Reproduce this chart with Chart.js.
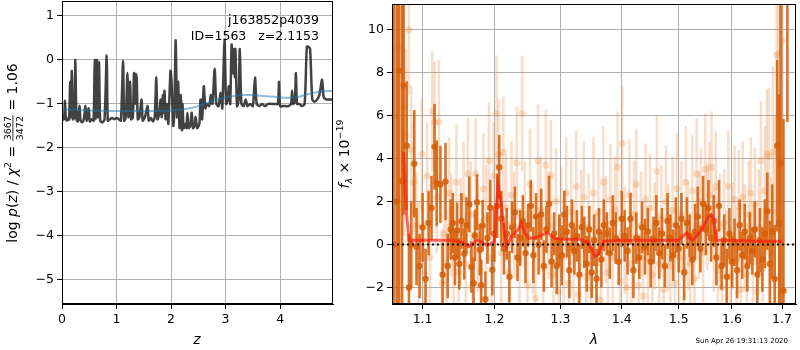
<!DOCTYPE html>
<html>
<head>
<meta charset="utf-8">
<script src="https://cdn.jsdelivr.net/npm/chart.js@4"></script>
<style>
  body { margin: 0; background: #fff; }
  #wrap { position: relative; width: 800px; height: 350px; }
  canvas { position: absolute; top: 0; }
</style>
</head>
<body>
<div id="wrap">
  <canvas id="pz" width="345" height="350" style="left:0"></canvas>
  <canvas id="spec" width="465" height="350" style="left:335px"></canvas>
</div>
<script>
// ---- left panel: log p(z) ----
const zVals = [0.00,0.02,0.04,0.055,0.07,0.09,0.11,0.13,0.15,0.165,
  0.18,0.20,0.225,0.245,0.265,0.29,0.32,0.34,0.37,0.40,
  0.43,0.45,0.49,0.51,0.55,0.58,0.60,0.62,0.64,0.66,
  0.68,0.70,0.74,0.78,0.82,0.84,0.88,0.92,0.96,1.00,
  1.04,1.08,1.12,1.14,1.17,1.20,1.22,1.25,1.27,1.30,
  1.32,1.335,1.35,1.37,1.39,1.42,1.46,1.48,1.52,1.57,
  1.59,1.63,1.67,1.70,1.73,1.75,1.78,1.81,1.83,1.85,
  1.865,1.88,1.90,1.93,1.95,1.99,2.01,2.04,2.06,2.085,
  2.11,2.13,2.155,2.18,2.20,2.21,2.23,2.26,2.28,2.30,
  2.32,2.35,2.38,2.40,2.43,2.45,2.48,2.52,2.54,2.57,
  2.60,2.63,2.66,2.70,2.73,2.76,2.80,2.83,2.87,2.91,
  2.94,2.98,3.01,3.04,3.06,3.085,3.11,3.13,3.15,3.165,
  3.18,3.21,3.24,3.26,3.29,3.33,3.37,3.40,3.45,3.50,
  3.54,3.57,3.62,3.67,3.72,3.78,3.85,3.92,3.96,3.98,
  4.00,4.05,4.10,4.15,4.20,4.22,4.24,4.27,4.29,4.31,
  4.35,4.40,4.45,4.49,4.52,4.55,4.59,4.63,4.68,4.72,
  4.77,4.80,4.85,4.90,4.97];
const logpVals = [-1.33,-1.36,-1.30,-0.93,-1.32,-1.38,-1.33,-1.36,-0.50,-1.30,
  -0.25,-1.35,-1.30,0.00,-1.35,-1.40,-1.05,-1.38,-1.42,-1.35,
  -1.05,-1.38,-1.10,-1.40,-1.35,-1.38,0.00,-1.35,0.00,-1.30,
  -0.05,-1.38,-1.42,-1.35,0.10,-1.38,-1.35,-1.32,-1.35,-1.32,
  -1.35,-1.38,-0.02,-1.38,-1.30,-0.30,-1.30,-0.50,-1.35,-1.30,
  -0.30,-1.00,-0.32,-0.40,-1.35,-1.30,-0.90,-1.38,-1.30,-1.05,
  -1.38,-1.32,-1.40,-1.30,-0.40,-1.35,-1.25,-0.90,-1.30,-0.80,
  -1.20,-0.70,-1.35,-1.00,-1.45,-0.25,-0.50,-1.50,-1.20,0.45,
  -1.30,-0.50,-1.55,-0.80,-1.60,-1.00,-1.55,-1.45,-1.55,-1.20,
  -1.55,-1.50,-1.20,-1.55,-1.50,-1.30,-1.55,-1.45,-0.90,-1.35,
  -0.60,-1.10,-1.00,-1.05,-0.80,-1.00,-0.20,-1.00,-1.05,-0.75,
  -1.10,0.45,-1.00,-0.90,-0.60,-1.00,0.35,-0.30,0.25,-0.40,
  0.25,-1.05,-0.90,0.25,-1.00,-1.05,-0.90,-1.05,-1.00,-1.05,
  -0.40,-1.00,-1.05,-1.00,-1.05,-1.00,-1.00,-1.00,-1.00,-0.50,
  -1.05,-1.05,-1.05,-1.05,-1.00,-0.70,-1.00,-0.95,-0.30,-1.00,
  -1.00,-1.05,-1.00,0.30,0.30,0.25,-0.90,-0.95,-0.90,-0.80,
  -0.45,-0.85,-0.90,-0.90,-0.90];
const zSmooth = [0.0,0.3,0.6,1.0,1.4,1.8,2.1,2.3,2.5,2.7,2.9,3.1,3.3,3.5,3.7,3.9,4.1,4.3,4.5,4.7,4.97];
const logpSmooth = [-1.12,-1.14,-1.15,-1.16,-1.16,-1.16,-1.14,-1.11,-1.05,-0.96,-0.88,-0.83,-0.80,-0.80,-0.82,-0.84,-0.86,-0.85,-0.78,-0.73,-0.70];
const zTicks = [0, 1, 2, 3, 4];
const pzTicks = [-5, -4, -3, -2, -1, 0, 1];

// ---- right panel: spectrum ----
const darkWave = [1.062,1.066,1.069,1.073,1.075,1.079,1.082,1.085,1.089,1.092,
  1.096,1.100,1.104,1.108,1.112,1.116,1.119,1.124,1.127,1.131,
  1.134,1.138,1.141,1.144,1.147,1.150,1.153,1.157,1.160,1.164,
  1.167,1.170,1.172,1.175,1.179,1.181,1.183,1.187,1.190,1.194,
  1.197,1.200,1.204,1.207,1.210,1.214,1.218,1.222,1.226,1.230,
  1.234,1.238,1.242,1.246,1.250,1.254,1.258,1.262,1.266,1.270,
  1.274,1.278,1.282,1.286,1.290,1.294,1.298,1.302,1.306,1.310,
  1.314,1.318,1.322,1.326,1.330,1.334,1.338,1.342,1.346,1.350,
  1.354,1.358,1.362,1.366,1.370,1.375,1.380,1.385,1.390,1.395,
  1.400,1.405,1.410,1.415,1.420,1.425,1.430,1.435,1.440,1.445,
  1.450,1.455,1.460,1.465,1.470,1.475,1.480,1.485,1.490,1.495,
  1.500,1.505,1.510,1.515,1.520,1.525,1.530,1.535,1.540,1.545,
  1.550,1.555,1.560,1.565,1.570,1.575,1.580,1.585,1.590,1.595,
  1.600,1.605,1.610,1.615,1.620,1.625,1.630,1.635,1.640,1.645,
  1.650,1.655,1.660,1.665,1.670,1.675,1.680,1.685,1.690,1.694,
  1.697,1.703,1.711];
const darkFlux = [0.0,2.0,8.1,2.95,7.4,4.6,-2.0,0.0,3.76,-0.1,
  -1.0,0.8,-1.6,1.0,1.7,4.55,2.85,2.8,-1.4,2.93,
  -1.0,0.7,1.0,-0.6,0.65,-0.9,1.1,-0.43,0.9,1.87,
  -1.05,-1.8,0.42,1.97,-0.24,-1.9,0.88,-2.55,0.3,1.72,
  -1.17,0.5,1.8,3.6,1.2,-0.2,0.5,-1.5,0.8,1.5,
  -0.6,0.3,1.1,-0.4,0.9,1.8,-0.5,1.3,0.0,1.4,
  -1.0,0.7,1.9,-0.8,0.5,-1.0,0.2,-0.5,1.4,0.6,
  -1.2,0.9,-0.3,0.4,-1.4,0.8,0.1,-0.9,0.7,-1.3,
  0.2,-1.6,0.6,-0.7,0.9,0.5,-0.4,1.0,0.3,-0.8,
  1.2,0.4,-0.3,1.2,-1.2,0.3,-0.6,0.8,-0.1,0.6,
  -0.8,0.2,1.0,-0.4,0.5,-1.0,1.1,0.3,-0.5,0.9,
  -0.2,1.2,-1.3,1.0,0.4,-0.7,0.6,1.3,-0.2,1.9,
  0.7,1.7,0.3,1.1,-0.6,1.8,-1.0,0.2,-1.5,0.5,
  -0.8,0.1,-1.2,0.9,-0.5,0.6,-1.0,0.3,-0.3,0.7,
  -1.4,0.2,-0.7,0.5,1.55,-0.9,0.6,-1.6,4.6,1.0,
  3.8,-2.15,18];
const darkErr = [40,40,30,20,6,3,2.5,2,2.5,1.8,
  1.5,1.6,1.4,1.5,1.5,2,2,1.8,1.5,1.8,
  1.5,1.4,1.4,1.3,1.3,1.2,1.3,1.2,1.3,1.3,
  1.2,1.2,1.2,1.3,1.2,1.2,1.2,1.3,1.2,1.3,
  1.2,1.3,1.5,1.5,1.3,1.2,1.2,1.2,1.2,1.2,
  1.1,1.3,1.2,1.4,1.0,1.2,1.3,1.1,1.4,1.2,
  1.2,1.1,1.3,1.2,1.0,1.3,1.2,1.4,1.1,1.2,
  1.3,1.2,1.1,1.2,1.4,1.0,1.2,1.3,1.1,1.2,
  1.2,1.4,1.1,1.3,1.2,1.0,1.2,1.3,1.2,1.1,
  1.3,1.2,1.1,1.2,1.3,1.2,1.0,1.2,1.3,1.1,
  1.2,1.1,1.3,1.2,1.2,1.0,1.3,1.1,1.2,1.3,
  1.1,1.2,1.3,1.2,1.0,1.2,1.3,1.4,1.1,1.3,
  1.2,1.3,1.1,1.2,1.3,1.2,1.1,1.2,1.3,1.2,
  1.2,1.1,1.3,1.2,1.1,1.3,1.2,1.2,1.1,1.3,
  1.4,1.5,1.5,1.6,1.8,2,2.2,2.5,4,6,
  30,8,12.3];
const lightWave = [1.064,1.068,1.071,1.075,1.078,1.082,1.085,1.088,1.092,1.095,
  1.099,1.102,1.106,1.110,1.113,1.116,1.119,1.122,1.126,1.129,
  1.132,1.136,1.139,1.142,1.146,1.149,1.152,1.156,1.159,1.162,
  1.166,1.169,1.173,1.176,1.180,1.184,1.188,1.192,1.196,1.199,
  1.203,1.206,1.210,1.213,1.217,1.221,1.225,1.229,1.233,1.237,
  1.241,1.245,1.249,1.253,1.257,1.261,1.265,1.269,1.273,1.277,
  1.281,1.285,1.289,1.293,1.297,1.301,1.305,1.309,1.313,1.317,
  1.321,1.325,1.329,1.333,1.337,1.341,1.345,1.349,1.353,1.357,
  1.361,1.365,1.369,1.373,1.377,1.381,1.385,1.389,1.393,1.397,
  1.401,1.405,1.409,1.413,1.417,1.421,1.425,1.429,1.433,1.437,
  1.441,1.445,1.449,1.453,1.457,1.461,1.465,1.469,1.473,1.477,
  1.481,1.485,1.489,1.493,1.497,1.501,1.505,1.509,1.513,1.517,
  1.521,1.525,1.529,1.533,1.537,1.541,1.545,1.549,1.553,1.557,
  1.561,1.565,1.569,1.573,1.577,1.581,1.585,1.589,1.593,1.597,
  1.601,1.605,1.609,1.613,1.617,1.621,1.625,1.629,1.633,1.637,
  1.641,1.645,1.649,1.653,1.657,1.661,1.665,1.669,1.673,1.677,
  1.681,1.685,1.689,1.693,1.697,1.701];
const lightFlux = [6.0,9.2,3.0,6.4,5.1,10.0,4.4,2.9,0.9,-0.5,
  4.2,-1.3,3.2,-0.6,6.2,5.7,2.2,5.7,-1.8,0.5,
  -0.9,2.4,0.9,-0.5,2.9,-1.3,0.6,2.2,-0.9,3.3,
  1.4,-1.8,3.3,0.3,-1.2,2.6,1.2,3.9,-0.6,3.2,
  6.1,4.2,-0.4,4.3,1.7,-1.3,2.3,0.9,3.8,-0.7,
  6.1,1.4,-1.9,2.8,0.2,-2.5,3.9,1.6,-1.1,3.7,
  0.9,3.2,-1.4,2.0,-2.2,1.1,-0.6,2.4,-1.8,1.5,
  -0.4,2.7,-2.3,1.0,2.2,-1.5,0.8,-2.0,2.4,-0.9,
  1.5,-2.6,2.9,0.7,-1.3,2.1,-0.6,1.6,3.6,-1.7,
  4.7,0.2,-2.0,2.3,-0.9,1.4,2.8,-1.9,0.9,-2.4,
  2.1,-0.6,1.7,-1.4,0.4,3.4,-0.9,1.2,-2.1,2.0,
  0.3,-1.0,1.6,-1.8,2.6,-0.6,1.4,-1.2,2.9,0.4,
  -0.9,2.5,-1.6,3.3,0.9,2.0,-0.4,3.5,1.3,2.3,
  3.6,0.2,2.7,-1.2,0.8,-2.0,1.0,-0.8,2.7,-1.5,
  0.4,2.1,-0.7,1.8,-2.1,2.2,0.3,-1.4,1.4,2.4,
  -0.8,1.9,-2.2,0.8,3.9,-1.1,2.5,4.2,4.1,-0.4,
  4.3,1.5,8.8,8.9,6.0,9.5];
const lightErr = [30,20,8,6,4,3,3,2.8,2.5,2.5,
  2.6,2.4,2.5,2.5,2.8,2.8,2.6,2.9,2.5,2.4,
  2.5,2.6,2.4,2.5,2.7,2.4,2.5,2.6,2.4,2.6,
  2.5,2.4,2.6,2.5,2.4,2.6,2.5,2.7,2.4,2.5,
  2.7,2.6,2.4,2.6,2.5,2.4,2.5,2.5,2.6,2.4,
  2.7,2.5,2.4,2.6,2.5,2.4,2.6,2.5,2.4,2.6,
  2.5,2.6,2.4,2.5,2.4,2.5,2.4,2.6,2.4,2.5,
  2.4,2.6,2.4,2.5,2.6,2.4,2.5,2.4,2.6,2.4,
  2.5,2.4,2.6,2.5,2.4,2.6,2.4,2.5,2.6,2.4,
  2.7,2.5,2.4,2.6,2.4,2.5,2.6,2.4,2.5,2.4,
  2.6,2.4,2.5,2.4,2.5,2.6,2.4,2.5,2.4,2.6,
  2.5,2.4,2.5,2.4,2.6,2.4,2.5,2.4,2.6,2.5,
  2.4,2.6,2.4,2.6,2.5,2.5,2.4,2.6,2.5,2.5,
  2.6,2.4,2.6,2.4,2.5,2.4,2.5,2.4,2.6,2.4,
  2.5,2.5,2.4,2.6,2.4,2.6,2.5,2.4,2.5,2.6,
  2.6,2.6,2.6,2.7,2.8,2.8,3,3,3.2,3.5,
  4,4.5,5,6,8,20];
const modelWave = [1.075,1.078,1.082,1.100,1.140,1.155,1.163,1.168,1.175,1.180,
  1.185,1.190,1.195,1.200,1.205,1.210,1.215,1.218,1.225,1.235,
  1.240,1.245,1.250,1.260,1.275,1.280,1.290,1.300,1.330,1.345,
  1.355,1.360,1.370,1.400,1.450,1.500,1.510,1.515,1.520,1.525,
  1.535,1.545,1.555,1.560,1.565,1.570,1.600,1.650,1.700];
const modelFlux = [4.3,1.8,0.2,0.2,0.2,0.1,-0.1,0.0,0.2,0.15,
  0.05,-0.05,0.05,0.15,2.8,1.9,0.5,-0.1,0.4,0.7,
  1.0,0.55,0.3,0.3,0.5,0.55,0.3,0.25,0.25,0.1,
  -0.55,-0.5,0.15,0.2,0.2,0.2,0.45,0.55,0.3,0.2,
  0.45,0.8,1.3,1.4,1.2,0.2,0.2,0.15,0.15];
const lamTicks = [1.1, 1.2, 1.3, 1.4, 1.5, 1.6, 1.7];
const fluxTicks = [-2, 0, 2, 4, 6, 8, 10];

const FAM = '"DejaVu Sans"';
const tickFont = { family: 'DejaVu Sans', size: 12.5 };
const minus = v => String(v).replace('-', '\u2212');
const pts = (xs, ys) => xs.map((x, i) => ({ x: x, y: ys[i] }));

// draws a run of text pieces (plain, sub/superscript, stacked fraction), centred on (cx, cy)
function drawRuns(ctx, runs, cx, cy, rot) {
  let total = 0;
  runs.forEach(r => {
    ctx.font = r.f;
    r.w = r.frac ? Math.max(ctx.measureText(r.frac[0]).width, ctx.measureText(r.frac[1]).width) + 2
                 : ctx.measureText(r.t).width;
    total += r.w;
  });
  ctx.save();
  ctx.translate(cx, cy);
  ctx.rotate(rot);
  ctx.fillStyle = '#000';
  ctx.textBaseline = 'alphabetic';
  let x = -total / 2;
  runs.forEach(r => {
    ctx.font = r.f;
    if (r.frac) {
      ctx.textAlign = 'center';
      ctx.fillText(r.frac[0], x + r.w / 2, -6);
      ctx.fillText(r.frac[1], x + r.w / 2, 5.5);
      ctx.fillRect(x, -4.5, r.w, 0.8);
      ctx.textAlign = 'left';
    } else {
      ctx.textAlign = 'left';
      ctx.fillText(r.t, x, r.dy || 0);
    }
    x += r.w;
  });
  ctx.restore();
}

const frame = {
  id: 'frame',
  afterDraw(chart) {
    const { ctx, chartArea: a } = chart;
    ctx.save();
    ctx.strokeStyle = '#000';
    ctx.lineWidth = 1;
    ctx.strokeRect(Math.round(a.left) + 0.5, Math.round(a.top) + 0.5,
      Math.round(a.right - a.left) - 1, Math.round(a.bottom - a.top) - 1);
    ctx.restore();
  }
};

const errorBars = {
  id: 'errorBars',
  beforeDatasetDraw(chart, args) {
    const ds = chart.data.datasets[args.index];
    if (!ds.errs) return;
    const { ctx, chartArea: a, scales: { x, y } } = chart;
    ctx.save();
    ctx.beginPath();
    ctx.rect(a.left, a.top, a.right - a.left, a.bottom - a.top);
    ctx.clip();
    ctx.strokeStyle = ds.barColor;
    ctx.lineWidth = ds.barWidth;
    ds.data.forEach((p, i) => {
      const px = x.getPixelForValue(p.x);
      ctx.beginPath();
      ctx.moveTo(px, y.getPixelForValue(p.y - ds.errs[i]));
      ctx.lineTo(px, y.getPixelForValue(p.y + ds.errs[i]));
      ctx.stroke();
    });
    ctx.restore();
  }
};

// fixed axis sizes so the plot boxes land where the reference has them
function fitX(h) {
  return s => { s.height = h; s.paddingLeft = 0; s.paddingRight = 0; };
}
function fitY(w) {
  return s => { s.width = w; s.paddingTop = 0; s.paddingBottom = 0; };
}

function axis(extra) {
  return Object.assign({
    ticks: { font: tickFont, color: '#000', padding: 3, maxRotation: 0, callback: v => minus(v) },
    grid: { color: '#b0b0b0', lineWidth: 1, tickColor: '#000', tickLength: 5 },
    border: { color: '#000' }
  }, extra);
}

const R = '14px ' + FAM, I = 'italic 14px ' + FAM, S = '9.5px ' + FAM;

const pzText = {
  id: 'pzText',
  afterDraw(chart) {
    const ctx = chart.ctx;
    drawRuns(ctx, [
      { t: 'log ', f: R }, { t: 'p', f: I }, { t: '(', f: R }, { t: 'z', f: I }, { t: ') / ', f: R },
      { t: '\u03c7', f: I }, { t: '2', f: S, dy: -6 }, { t: ' = ', f: R },
      { frac: ['3667', '3472'], f: S }, { t: ' = 1.06', f: R }
    ], 17, 153, -Math.PI / 2);
    drawRuns(ctx, [{ t: 'z', f: I }], 197, 344, 0);
    ctx.save();
    ctx.font = '12.5px ' + FAM;
    ctx.fillStyle = '#000';
    ctx.textAlign = 'right';
    ctx.fillText('j163852p4039', 319, 24);
    ctx.fillText('ID=1563   z=2.1153', 319, 40);
    ctx.restore();
  }
};

new Chart(document.getElementById('pz'), {
  type: 'scatter',
  data: {
    datasets: [
      { data: pts(zSmooth, logpSmooth), showLine: true, pointRadius: 0,
        borderColor: 'rgba(31,119,180,0.5)', borderWidth: 2, cubicInterpolationMode: 'monotone' },
      { data: pts(zVals, logpVals), showLine: true, pointRadius: 0,
        borderColor: 'rgba(45,45,45,0.9)', borderWidth: 2.5, tension: 0.25, borderJoinStyle: 'round' }
    ]
  },
  options: {
    responsive: false,
    animation: false,
    layout: { padding: { left: 0, right: 12, top: 1, bottom: 0 } },
    plugins: { legend: { display: false }, tooltip: { enabled: false } },
    scales: {
      x: axis({ type: 'linear', min: 0, max: 4.97,
        afterBuildTicks: s => { s.ticks = zTicks.map(v => ({ value: v })); },
        afterFit: fitX(46) }),
      y: axis({ type: 'linear', min: -5.55, max: 1.34,
        afterBuildTicks: s => { s.ticks = pzTicks.map(v => ({ value: v })); },
        afterFit: fitY(62) })
    }
  },
  plugins: [frame, pzText]
});

const specText = {
  id: 'specText',
  afterDraw(chart) {
    const ctx = chart.ctx;
    drawRuns(ctx, [
      { t: 'f', f: I }, { t: '\u03bb', f: 'italic 9.5px ' + FAM, dy: 3 },
      { t: ' \u00d7 10', f: R }, { t: '\u221219', f: S, dy: -6 }
    ], 14, 154, -Math.PI / 2);
    drawRuns(ctx, [{ t: '\u03bb', f: I }], 259, 344, 0);
    ctx.save();
    ctx.font = '7px ' + FAM;
    ctx.fillStyle = '#000';
    ctx.textAlign = 'right';
    ctx.fillText('Sun Apr 26 19:31:13 2020', 453, 343);
    ctx.restore();
  }
};

const darkOrange = 'rgba(214,96,10,0.88)';
const lightOrange = 'rgba(232,140,70,0.28)';

new Chart(document.getElementById('spec'), {
  type: 'scatter',
  data: {
    datasets: [
      { data: [{ x: 1.06, y: 0 }, { x: 1.729, y: 0 }], showLine: true, pointRadius: 0,
        borderColor: '#111', borderWidth: 2, borderDash: [2, 3] },
      { data: pts(modelWave, modelFlux), showLine: true, pointRadius: 0,
        borderColor: 'rgba(255,20,10,0.65)', borderWidth: 3, tension: 0 },
      { data: pts(darkWave, darkFlux), pointRadius: 3.2, borderWidth: 0,
        backgroundColor: darkOrange, errs: darkErr, barColor: darkOrange, barWidth: 2.6 },
      { data: pts(lightWave, lightFlux), pointRadius: 3.5, borderWidth: 0,
        backgroundColor: lightOrange, errs: lightErr, barColor: lightOrange, barWidth: 2.6 }
    ]
  },
  options: {
    responsive: false,
    animation: false,
    layout: { padding: { left: 0, right: 1, top: 1, bottom: 0 } },
    plugins: { legend: { display: false }, tooltip: { enabled: false } },
    scales: {
      x: axis({ type: 'logarithmic', min: 1.06, max: 1.729,
        afterBuildTicks: s => { s.ticks = lamTicks.map(v => ({ value: v })); },
        afterFit: fitX(46),
        ticks: { font: tickFont, color: '#000', padding: 3, maxRotation: 0, autoSkip: false,
          callback: v => Number(v).toFixed(1) } }),
      y: axis({ type: 'linear', min: -2.77, max: 11.2,
        afterBuildTicks: s => { s.ticks = fluxTicks.map(v => ({ value: v })); },
        afterFit: fitY(57) })
    }
  },
  plugins: [errorBars, frame, specText]
});
</script>
</body>
</html>
